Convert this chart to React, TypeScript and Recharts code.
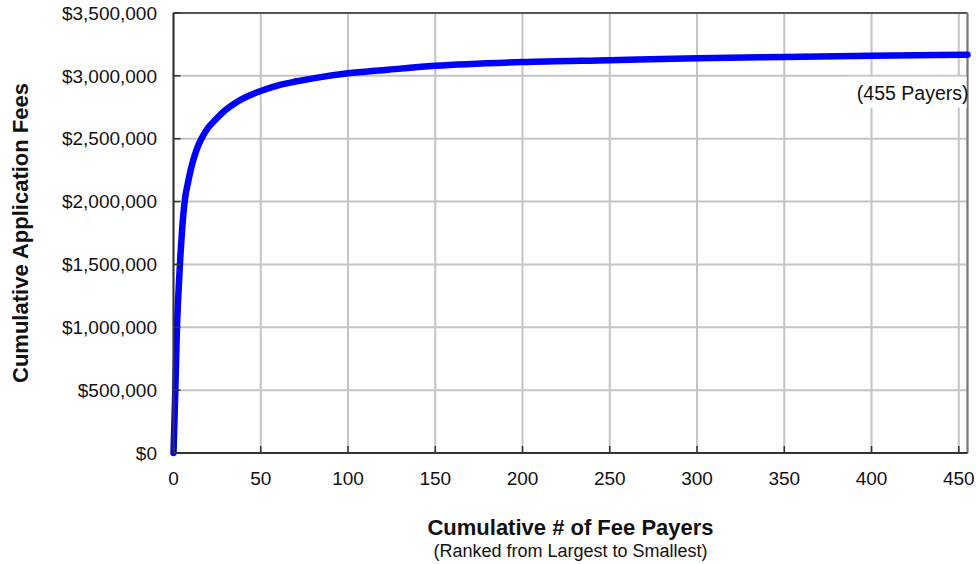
import React from "react";
import {
  CartesianGrid,
  Label,
  Line,
  LineChart,
  ReferenceLine,
  XAxis,
  YAxis,
} from "recharts";

// cumulative fee payers, ranked largest to smallest
const payers = [
  0, 1, 2, 3, 4, 5, 6, 7, 8, 10, 12, 14, 16, 20, 24, 30, 35, 40, 50, 60, 70,
  80, 100, 120, 150, 200, 250, 300, 350, 400, 455,
];
const cumulativeFees = [
  0, 480000, 1000000, 1320000, 1580000, 1790000, 1950000, 2060000, 2130000,
  2260000, 2360000, 2440000, 2500000, 2590000, 2650000, 2730000, 2780000,
  2820000, 2880000, 2925000, 2955000, 2980000, 3020000, 3045000, 3080000,
  3110000, 3125000, 3140000, 3150000, 3160000, 3168000,
];
const xTicks = [0, 50, 100, 150, 200, 250, 300, 350, 400, 450];
const yTicks = [0, 500000, 1000000, 1500000, 2000000, 2500000, 3000000, 3500000];
const endNote = "(455 Payers)";

const data = payers.map((p, i) => ({ payers: p, fees: cumulativeFees[i] }));

const FONT = '"Liberation Sans", Arial, Helvetica, sans-serif';

const fmtMoney = (v: number) => "$" + v.toLocaleString("en-US");

function EndLabel(props: any) {
  const { x, y, index } = props;
  if (index !== data.length - 1) return null;
  return (
    <g>
      <rect x={x - 120} y={y + 22} width={119} height={31} fill="#ffffff" stroke="none" />
      <text
        x={x + 1}
        y={y + 45}
        textAnchor="end"
        fontSize={19.5}
        fill="#111"
        fontFamily={FONT}
      >
        {endNote}
      </text>
    </g>
  );
}

function YTitle(props: any) {
  const vb = props.viewBox;
  const cx = 28;
  const cy = vb.y + vb.height / 2;
  return (
    <text
      x={cx}
      y={cy}
      transform={`rotate(-90, ${cx}, ${cy})`}
      textAnchor="middle"
      fontSize={22}
      fontWeight="bold"
      fill="#111"
      fontFamily={FONT}
    >
      Cumulative Application Fees
    </text>
  );
}

function XTitle(props: any) {
  const vb = props.viewBox;
  const cx = vb.x + vb.width / 2;
  return (
    <g fontFamily={FONT} fill="#111" textAnchor="middle">
      <text x={cx} y={vb.y + 82} fontSize={22} fontWeight="bold">
        Cumulative # of Fee Payers
      </text>
      <text x={cx} y={vb.y + 104} fontSize={18}>
        (Ranked from Largest to Smallest)
      </text>
    </g>
  );
}

export default function App() {
  return (
    <div
      style={{
        position: "absolute",
        top: 0,
        left: 0,
        width: 976,
        height: 564,
        background: "#fff",
        fontFamily: FONT,
      }}
    >
      <LineChart
        width={976}
        height={564}
        data={data}
        margin={{ top: 13, right: 8.5, bottom: 0, left: 0 }}
      >
        <CartesianGrid stroke="#c4c4c4" strokeWidth={2} />
        <XAxis
          dataKey="payers"
          type="number"
          domain={[0, 455]}
          ticks={xTicks}
          interval={0}
          height={111}
          axisLine={{ stroke: "#333", strokeWidth: 2 }}
          tickLine={{ stroke: "#333", strokeWidth: 1.5 }}
          tickSize={-7}
          tickMargin={26}
          tick={{ fontSize: 19, fill: "#111", fontFamily: FONT }}
        >
          <Label content={<XTitle />} />
        </XAxis>
        <YAxis
          type="number"
          domain={[0, 3500000]}
          ticks={yTicks}
          interval={0}
          width={173.5}
          axisLine={{ stroke: "#333", strokeWidth: 2 }}
          tickLine={{ stroke: "#333", strokeWidth: 1.5 }}
          tickSize={-7}
          tickMargin={23.5}
          tickFormatter={fmtMoney}
          tick={{ fontSize: 19, fill: "#111", fontFamily: FONT }}
        >
          <Label content={<YTitle />} />
        </YAxis>
        <ReferenceLine y={3500000} stroke="#555" strokeWidth={2} />
        <ReferenceLine x={455} stroke="#777" strokeWidth={2} />
        <Line
          type="monotone"
          dataKey="fees"
          stroke="#0000ff"
          strokeWidth={6.5}
          strokeLinecap="round"
          strokeLinejoin="round"
          dot={false}
          activeDot={false}
          isAnimationActive={false}
          label={<EndLabel />}
        />
      </LineChart>
    </div>
  );
}
